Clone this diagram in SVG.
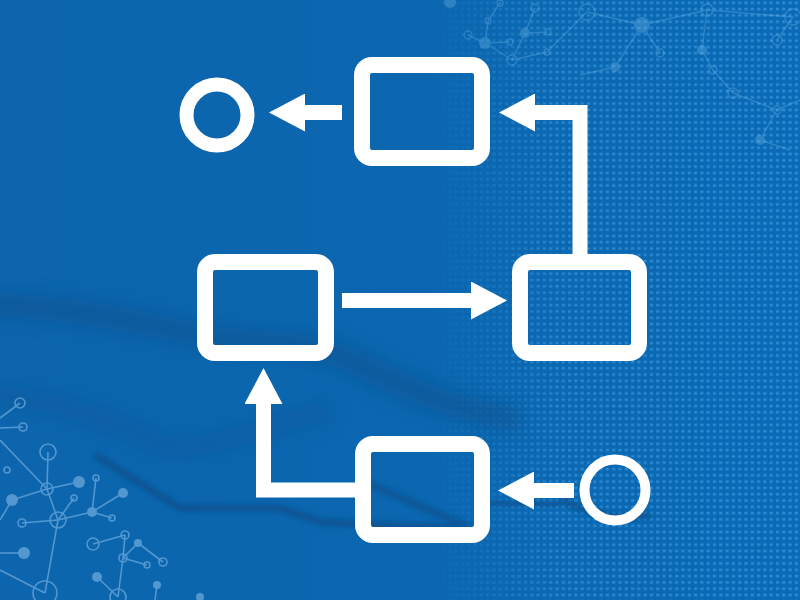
<svg xmlns="http://www.w3.org/2000/svg" width="800" height="600" viewBox="0 0 800 600">
  <defs>
    <style>
      .box { fill: none; stroke: #ffffff; stroke-width: 16; }
      .ring { fill: none; stroke: #ffffff; }
      .conn { fill: none; stroke: #ffffff; stroke-width: 15; stroke-linejoin: miter; stroke-linecap: butt; }
      .net line { stroke: #6aa8dc; stroke-width: 1.6; }
      .net .h { fill: none; stroke: #6aa8dc; stroke-width: 1.6; }
      .net .f { fill: #6aa8dc; }
      .net2 line { stroke: #7cc0ee; stroke-width: 1.4; }
      .net2 .h { fill: none; stroke: #7cc0ee; stroke-width: 1.4; }
      .net2 .f { fill: #7cc0ee; }
    </style>
    <marker id="head" viewBox="0 0 36 38" refX="1" refY="19" markerWidth="36" markerHeight="38" markerUnits="userSpaceOnUse" orient="auto">
      <path d="M0,0 L36,19 L0,38 Z" fill="#ffffff"/>
    </marker>
    <pattern id="dots" x="0" y="0" width="6.3" height="6.3" patternUnits="userSpaceOnUse">
      <rect x="1" y="1.5" width="3.2" height="2.6" fill="#45a3e6"/>
    </pattern>
    <linearGradient id="fade" x1="0" y1="0" x2="1" y2="0">
      <stop offset="0" stop-color="#fff" stop-opacity="0"/>
      <stop offset="0.35" stop-color="#fff" stop-opacity="0.75"/>
      <stop offset="1" stop-color="#fff" stop-opacity="0.85"/>
    </linearGradient>
    <mask id="dotmask" maskUnits="userSpaceOnUse" x="0" y="0" width="800" height="600">
      <rect x="430" y="0" width="370" height="600" fill="url(#fade)"/>
    </mask>
    <linearGradient id="bg" x1="0" y1="0" x2="1" y2="0">
      <stop offset="0" stop-color="#0c65ad"/>
      <stop offset="0.6" stop-color="#0b67b0"/>
      <stop offset="1" stop-color="#0a6ab6"/>
    </linearGradient>
    <filter id="blurBig" x="-20%" y="-50%" width="140%" height="200%">
      <feGaussianBlur stdDeviation="9"/>
    </filter>
    <filter id="blurSm" x="-10%" y="-50%" width="120%" height="200%">
      <feGaussianBlur stdDeviation="2.5"/>
    </filter>
  </defs>

  <g id="background">
    <rect x="0" y="0" width="800" height="600" fill="url(#bg)"/>
    <rect x="0" y="0" width="800" height="600" fill="url(#dots)" mask="url(#dotmask)" opacity="0.7"/>
  </g>

  <g id="shadows">
    <path d="M-20,305 C60,305 140,322 200,335 S300,335 360,365 S460,410 520,420" fill="none" stroke="#0a4f8c" stroke-width="24" opacity="0.55" filter="url(#blurBig)"/>
    <path d="M-10,395 C60,400 110,420 150,440 S250,430 330,410" fill="none" stroke="#0a4f8c" stroke-width="18" opacity="0.35" filter="url(#blurBig)"/>
    <path d="M95,455 L180,508 L278,508 L322,522 L375,525 L460,528" fill="none" stroke="#0a4f8c" stroke-width="7" opacity="0.8" filter="url(#blurSm)"/>
    <path d="M370,484 L470,528" fill="none" stroke="#0a4f8c" stroke-width="7" opacity="0.7" filter="url(#blurSm)"/>
    <path d="M480,502 L560,505" fill="none" stroke="#0a4f8c" stroke-width="7" opacity="0.6" filter="url(#blurSm)"/>
    <path d="M560,498 C585,515 625,520 650,515" fill="none" stroke="#0a4f8c" stroke-width="6" opacity="0.8" filter="url(#blurSm)"/>
  </g>

  <g id="network-bottom-left" class="net" opacity="0.75">
    <line x1="20" y1="403" x2="0" y2="418"/>
    <line x1="23" y1="427" x2="0" y2="428"/>
    <line x1="48" y1="452" x2="47" y2="489"/>
    <line x1="0" y1="440" x2="47" y2="489"/>
    <line x1="47" y1="489" x2="79" y2="482"/>
    <line x1="47" y1="489" x2="12" y2="500"/>
    <line x1="12" y1="500" x2="0" y2="520"/>
    <line x1="47" y1="489" x2="58" y2="520"/>
    <line x1="58" y1="520" x2="22" y2="523"/>
    <line x1="58" y1="520" x2="92" y2="512"/>
    <line x1="58" y1="520" x2="74" y2="498"/>
    <line x1="92" y1="512" x2="96" y2="478"/>
    <line x1="92" y1="512" x2="123" y2="493"/>
    <line x1="92" y1="512" x2="112" y2="518"/>
    <line x1="58" y1="520" x2="45" y2="593"/>
    <line x1="0" y1="553" x2="24" y2="553"/>
    <line x1="0" y1="570" x2="45" y2="593"/>
    <line x1="93" y1="544" x2="125" y2="535"/>
    <line x1="125" y1="535" x2="123" y2="558"/>
    <line x1="123" y1="558" x2="138" y2="543"/>
    <line x1="138" y1="543" x2="163" y2="562"/>
    <line x1="123" y1="558" x2="147" y2="565"/>
    <line x1="123" y1="558" x2="118" y2="597"/>
    <line x1="97" y1="577" x2="118" y2="597"/>
    <line x1="157" y1="585" x2="155" y2="600"/>
    <circle class="h" cx="20" cy="403" r="5"/>
    <circle class="h" cx="23" cy="427" r="4"/>
    <circle class="h" cx="48" cy="452" r="8"/>
    <circle class="h" cx="47" cy="489" r="6"/>
    <circle class="f" cx="79" cy="482" r="6"/>
    <circle class="f" cx="12" cy="500" r="6"/>
    <circle class="h" cx="7" cy="470" r="3"/>
    <circle class="h" cx="58" cy="520" r="8"/>
    <circle class="h" cx="22" cy="523" r="4"/>
    <circle class="f" cx="92" cy="512" r="5"/>
    <circle class="h" cx="96" cy="478" r="3"/>
    <circle class="h" cx="74" cy="498" r="3"/>
    <circle class="f" cx="123" cy="493" r="5"/>
    <circle class="h" cx="112" cy="518" r="3"/>
    <circle class="f" cx="24" cy="553" r="6"/>
    <circle class="h" cx="93" cy="544" r="6"/>
    <circle class="h" cx="125" cy="535" r="4"/>
    <circle class="h" cx="123" cy="558" r="4"/>
    <circle class="f" cx="138" cy="543" r="4"/>
    <circle class="h" cx="163" cy="562" r="4"/>
    <circle class="h" cx="147" cy="565" r="3"/>
    <circle class="f" cx="97" cy="577" r="5"/>
    <circle class="h" cx="45" cy="593" r="12"/>
    <circle class="h" cx="118" cy="597" r="8"/>
    <circle class="f" cx="157" cy="585" r="4"/>
    <circle class="f" cx="200" cy="597" r="4"/>
  </g>

  <g id="network-top-right" class="net2" opacity="0.3">
    <line x1="468" y1="35" x2="485" y2="43"/>
    <line x1="485" y1="43" x2="512" y2="60"/>
    <line x1="512" y1="60" x2="547" y2="52"/>
    <line x1="488" y1="21" x2="485" y2="43"/>
    <line x1="485" y1="43" x2="510" y2="42"/>
    <line x1="525" y1="33" x2="548" y2="32"/>
    <line x1="525" y1="33" x2="512" y2="60"/>
    <line x1="525" y1="33" x2="535" y2="8"/>
    <line x1="500" y1="3" x2="488" y2="21"/>
    <line x1="547" y1="52" x2="587" y2="12"/>
    <line x1="587" y1="12" x2="642" y2="25"/>
    <line x1="642" y1="25" x2="615" y2="67"/>
    <line x1="642" y1="25" x2="660" y2="53"/>
    <line x1="642" y1="25" x2="707" y2="10"/>
    <line x1="707" y1="10" x2="702" y2="50"/>
    <line x1="702" y1="50" x2="713" y2="70"/>
    <line x1="707" y1="10" x2="793" y2="17"/>
    <line x1="793" y1="17" x2="777" y2="40"/>
    <line x1="713" y1="70" x2="733" y2="93"/>
    <line x1="733" y1="93" x2="777" y2="110"/>
    <line x1="777" y1="110" x2="760" y2="140"/>
    <line x1="777" y1="110" x2="800" y2="100"/>
    <line x1="615" y1="67" x2="580" y2="75"/>
    <line x1="760" y1="140" x2="790" y2="150"/>
    <circle class="f" cx="450" cy="2" r="6"/>
    <circle class="h" cx="468" cy="35" r="4"/>
    <circle class="h" cx="488" cy="21" r="3"/>
    <circle class="f" cx="485" cy="43" r="6"/>
    <circle class="h" cx="510" cy="42" r="3"/>
    <circle class="h" cx="512" cy="60" r="5"/>
    <circle class="f" cx="525" cy="33" r="5"/>
    <circle class="h" cx="547" cy="52" r="3"/>
    <circle class="h" cx="548" cy="32" r="3"/>
    <circle class="h" cx="535" cy="8" r="4"/>
    <circle class="h" cx="500" cy="3" r="3"/>
    <circle class="h" cx="587" cy="12" r="8"/>
    <circle class="f" cx="642" cy="25" r="8"/>
    <circle class="f" cx="615" cy="67" r="5"/>
    <circle class="h" cx="660" cy="53" r="4"/>
    <circle class="h" cx="707" cy="10" r="6"/>
    <circle class="f" cx="702" cy="50" r="5"/>
    <circle class="h" cx="793" cy="17" r="8"/>
    <circle class="h" cx="777" cy="40" r="5"/>
    <circle class="h" cx="713" cy="70" r="4"/>
    <circle class="f" cx="760" cy="140" r="5"/>
    <circle class="h" cx="777" cy="110" r="4"/>
    <circle class="h" cx="733" cy="93" r="5"/>
  </g>

  <g id="connectors">
    <path class="conn" d="M342,112.5 H304" marker-end="url(#head)"/>
    <path class="conn" d="M580,258 V112.5 H534" marker-end="url(#head)"/>
    <path class="conn" d="M342,300.5 H472" marker-end="url(#head)"/>
    <path class="conn" d="M574,490.5 H533" marker-end="url(#head)"/>
    <path class="conn" d="M357,490 H263.5 V403" marker-end="url(#head)"/>
  </g>

  <g id="end-circle">
    <circle class="ring" cx="217" cy="115" r="30.5" stroke-width="14"/>
  </g>
  <g id="box-top">
    <rect class="box" x="362" y="65" width="120" height="93" rx="10"/>
  </g>
  <g id="box-mid-left">
    <rect class="box" x="205" y="262" width="121" height="91" rx="10"/>
  </g>
  <g id="box-mid-right">
    <rect class="box" x="520" y="262" width="119" height="91" rx="10"/>
  </g>
  <g id="box-bottom">
    <rect class="box" x="363" y="444" width="119" height="91" rx="10"/>
  </g>
  <g id="start-circle">
    <circle class="ring" cx="615" cy="490" r="30.5" stroke-width="10"/>
  </g>
</svg>
